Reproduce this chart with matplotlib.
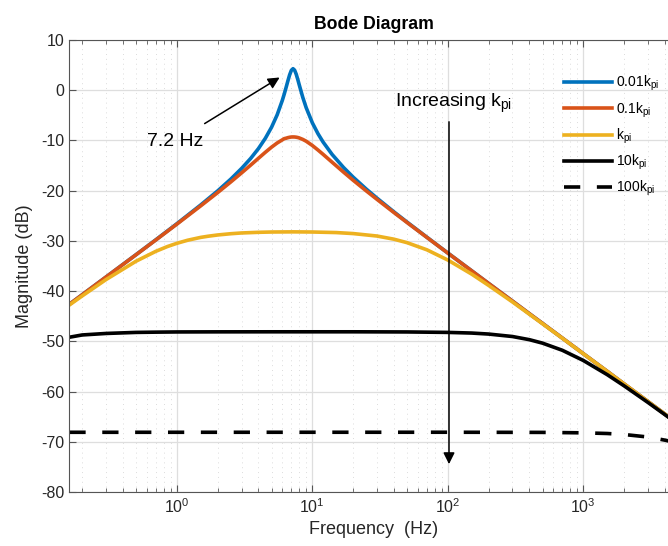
import matplotlib
matplotlib.use("Agg")
import matplotlib.pyplot as plt
from matplotlib.ticker import LogLocator, NullFormatter

plt.rcParams['font.family'] = ['Liberation Sans', 'DejaVu Sans']
plt.rcParams['mathtext.default'] = 'regular'
plt.rcParams['axes.unicode_minus'] = False

# frequencies (Hz)
f_res = [0.161, 0.2, 0.3, 0.5, 0.7, 1, 1.5, 2, 2.5, 3, 3.5, 4, 4.5, 5, 5.5, 6, 6.2, 6.4,
         6.6, 6.8, 7.0, 7.2, 7.4, 7.6, 7.8, 8, 8.5, 9, 10, 11, 12, 14, 17, 20, 25, 30, 40,
         50, 70, 100, 150, 200, 300, 400, 500, 700, 1000, 1500, 2000, 3000, 4100, 5000]
mag_001 = [-42.61, -40.72, -37.19, -32.73, -29.77, -26.58, -22.84, -20.05, -17.70, -15.59,
           -13.60, -11.62, -9.56, -7.36, -4.89, -2.03, -0.77, 0.55, 1.87, 3.08, 3.97, 4.29,
           3.99, 3.20, 2.18, 1.09, -1.42, -3.46, -6.49, -8.65, -10.31, -12.79, -15.39,
           -17.30, -19.68, -21.49, -24.22, -26.26, -29.26, -32.41, -35.95, -38.47, -41.99,
           -44.50, -46.43, -49.35, -52.46, -55.97, -58.48, -61.99, -64.71, -66.44]
mag_01 = [-42.61, -40.73, -37.19, -32.75, -29.81, -26.66, -23.02, -20.38, -18.26, -16.47,
          -14.92, -13.55, -12.35, -11.33, -10.50, -9.88, -9.64, -9.55, -9.44, -9.36, -9.31,
          -9.30, -9.31, -9.35, -9.41, -9.50, -9.79, -10.15, -11.00, -11.90, -12.76, -14.34,
          -16.31, -17.92, -20.04, -21.73, -24.35, -26.34, -29.30, -32.43, -35.96, -38.47,
          -41.99, -44.50, -46.43, -49.35, -52.46, -55.97, -58.48, -61.99, -64.71, -66.44]

f_k = [0.161, 0.2, 0.3, 0.5, 0.7, 0.85, 1, 1.2, 1.5, 1.7, 2, 2.5, 3, 4, 5, 7.2, 10, 15, 20,
       30, 40, 50, 70, 100, 150, 200, 300, 500, 700, 1000, 2000, 4100, 5000]
mag_1 = [-42.76, -40.96, -37.70, -34.04, -32.07, -31.13, -30.48, -29.87, -29.30, -29.07,
         -28.82, -28.57, -28.42, -28.29, -28.23, -28.20, -28.23, -28.34, -28.54, -29.03,
         -29.66, -30.35, -31.77, -33.81, -36.62, -38.86, -42.16, -46.50, -49.38, -52.47,
         -58.48, -64.71, -66.44]

f_10 = [0.161, 0.2, 0.3, 0.5, 0.7, 1, 2, 5, 20, 50, 100, 150, 200, 300, 400, 500, 700,
        1000, 1500, 2000, 3000, 4100, 5000]
mag_10 = [-49.18, -48.73, -48.43, -48.22, -48.17, -48.13, -48.11, -48.10, -48.10, -48.13,
          -48.22, -48.35, -48.55, -49.04, -49.67, -50.36, -51.78, -53.81, -56.63, -58.86,
          -62.17, -64.80, -66.50]

f_100 = [0.161, 100, 500, 1000, 1500, 2000, 3000, 4100, 5000]
mag_100 = [-68.11, -68.10, -68.13, -68.22, -68.35, -68.55, -69.05, -69.73, -70.36]

labels = ['0.01k$_{pi}$', '0.1k$_{pi}$', 'k$_{pi}$', '10k$_{pi}$', '100k$_{pi}$']
colors = ['#0072BD', '#D95319', '#EDB120', 'black', 'black']

fig = plt.figure(figsize=(6.68, 5.46), dpi=100)
ax = fig.add_axes([0.1039, 0.0989, 0.9111, 0.8278])

lw = 2.6
ax.plot(f_res, mag_001, color=colors[0], lw=lw, label=labels[0])
ax.plot(f_res, mag_01, color=colors[1], lw=lw, label=labels[1])
ax.plot(f_k, mag_1, color=colors[2], lw=lw, label=labels[2])
ax.plot(f_10, mag_10, color=colors[3], lw=lw, label=labels[3])
ax.plot(f_100, mag_100, color=colors[4], lw=lw, label=labels[4], dashes=(4.5, 4.6))

ax.set_xscale('log')
ax.set_xlim(0.161, 5000)
ax.set_ylim(-80, 10)
ax.set_yticks(range(-80, 11, 10))
ax.xaxis.set_minor_locator(LogLocator(base=10, subs=range(2, 10), numticks=50))
ax.xaxis.set_minor_formatter(NullFormatter())

ax.grid(True, which='major', color='#dedede', lw=0.9, ls='-')
ax.grid(True, which='minor', axis='x', color='#dcdcdc', lw=0.7, ls=(0, (1, 4)))
ax.set_axisbelow(True)

tc = '#262626'
ax.tick_params(which='both', direction='in', top=True, right=False, colors='#555555',
               labelcolor=tc, labelsize=11.5)
ax.tick_params(which='major', length=5, width=0.8)
ax.tick_params(which='minor', length=3, width=0.6)
for side in ['left', 'bottom', 'top']:
    ax.spines[side].set_color('#555555')
    ax.spines[side].set_linewidth(0.8)
ax.spines['right'].set_visible(False)

ax.set_xlabel('Frequency  (Hz)', fontsize=13, color=tc, labelpad=4)
ax.set_ylabel('Magnitude (dB)', fontsize=13, color=tc, labelpad=6)
ax.set_title('Bode Diagram', fontsize=12.7, fontweight='bold', color='black', pad=8)

leg = ax.legend(loc='upper left', bbox_to_anchor=(0.803, 0.937), frameon=False,
                fontsize=10, handlelength=3.5, handletextpad=0.3, labelspacing=0.5,
                borderaxespad=0)

ax.annotate('', xy=(5.97, 2.83), xytext=(1.54, -6.93),
            arrowprops=dict(arrowstyle='-|>', color='black', lw=1.1, mutation_scale=17))
ax.text(0.6, -11.05, '7.2 Hz', fontsize=14, ha='left', va='baseline')

ax.annotate('', xy=(102, -75.0), xytext=(102, -5.73),
            arrowprops=dict(arrowstyle='-|>', color='black', lw=1.1, mutation_scale=17))
ax.text(40.5, -3.3, 'Increasing k$_{pi}$', fontsize=14, ha='left', va='baseline')

fig.savefig('out.png', dpi=100)
